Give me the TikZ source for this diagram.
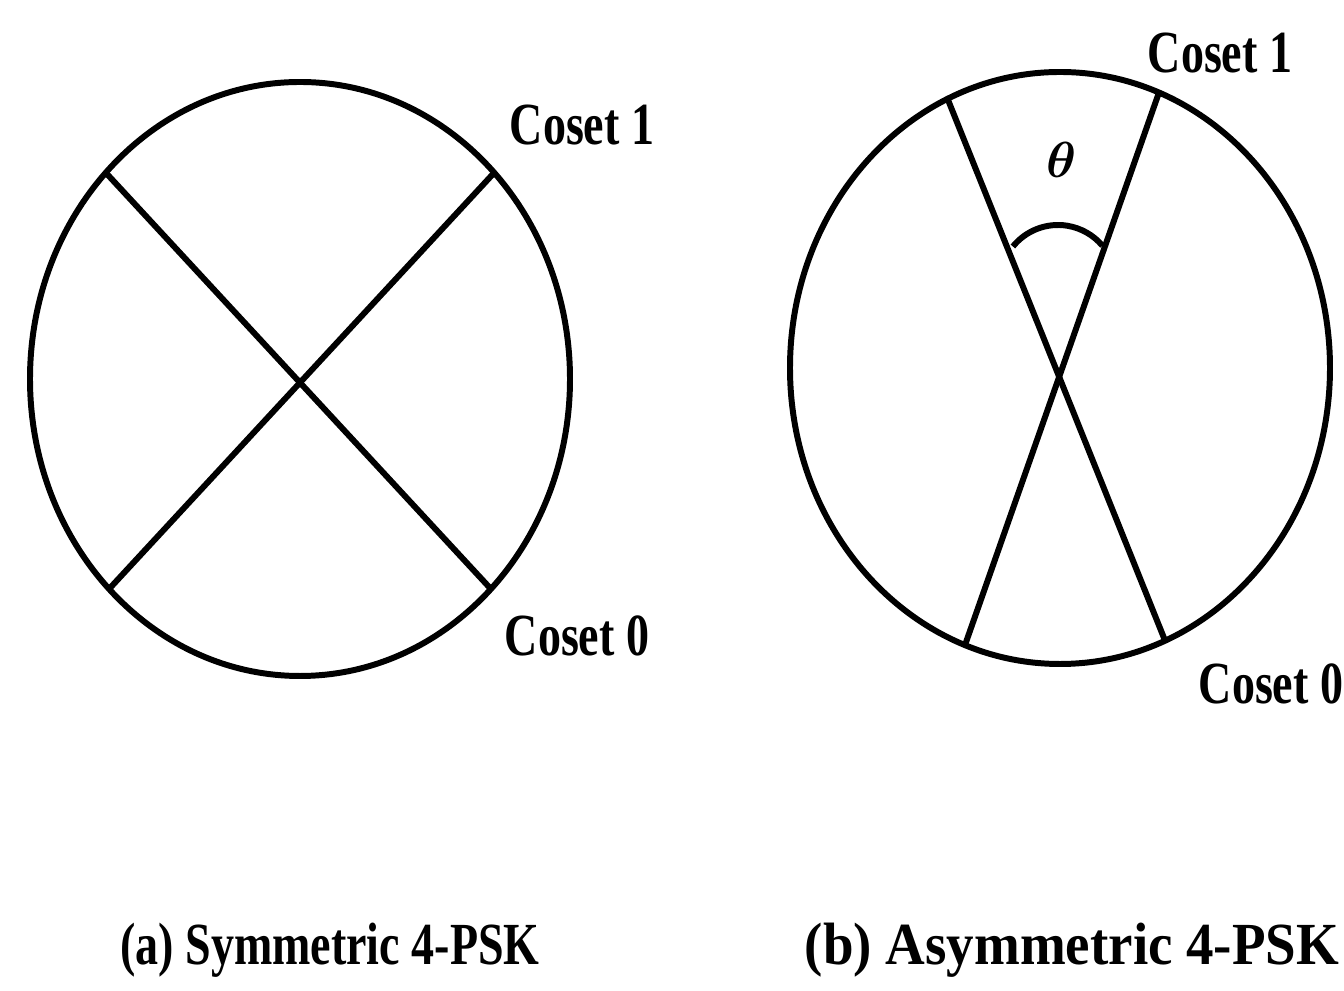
\documentclass[tikz,border=0pt]{standalone}
\usepackage{amsmath,amssymb}
\usepackage{fontspec}
\usepackage{tikz}
\newfontfamily\capfont{Liberation Serif}[FakeStretch=0.77]
\newfontfamily\widecapfont{Liberation Serif}[FakeStretch=0.92]
\usetikzlibrary{calc}

\begin{document}
\begin{tikzpicture}[line width=1.7pt,
	txt/.style={font=\capfont\bfseries\fontsize{17}{20}\selectfont,inner sep=0pt}]
	\useasboundingbox (0,0) rectangle (13.44,-9.91);

	% (a) symmetric
	\begin{scope}
		\coordinate (ca) at (3.00,-3.79);
		\draw (ca) ellipse (2.70 and 2.97);
		\coordinate (a1) at ($(ca)+(136:2.70 and 2.97)$);
		\coordinate (a2) at ($(ca)+(-45:2.70 and 2.97)$);
		\coordinate (a3) at ($(ca)+(44:2.70 and 2.97)$);
		\coordinate (a4) at ($(ca)+(225:2.70 and 2.97)$);
		\draw (a1)--(a2);
		\draw (a3)--(a4);
		\node[txt] (lcoset1) at (5.82,-1.25) {Coset 1};
		\node[txt] (lcoset0) at (5.77,-6.36) {Coset 0};
		\node[txt] (capa) at (3.30,-9.50) {(a) Symmetric 4-PSK};
	\end{scope}

	% (b) asymmetric
	\begin{scope}
		\coordinate (cb) at (10.60,-3.68);
		\draw (cb) ellipse (2.70 and 2.96);
		\coordinate (b1) at ($(cb)+(114.6:2.70 and 2.96)$);
		\coordinate (b2) at ($(cb)+(-67.1:2.70 and 2.96)$);
		\coordinate (b3) at ($(cb)+(68.5:2.70 and 2.96)$);
		\coordinate (b4) at ($(cb)+(249.4:2.70 and 2.96)$);
		\draw (b1)--(b2);
		\draw (b3)--(b4);
		\coordinate (tc) at (10.58,-2.83);
		\draw ($(tc)+(141:0.58)$) arc[start angle=141,end angle=40,radius=0.58];
		\node[font=\fontsize{15}{18}\selectfont,inner sep=0pt] (theta) at (10.62,-1.60) {$\boldsymbol{\theta}$};
		\node[txt] (rcoset1) at (12.20,-0.53) {Coset 1};
		\node[txt] (rcoset0) at (12.71,-6.84) {Coset 0};
		\node[txt,font=\widecapfont\bfseries\fontsize{17}{20}\selectfont] (capb) at (10.72,-9.50) {(b) Asymmetric 4-PSK};
	\end{scope}

\end{tikzpicture}
\end{document}
